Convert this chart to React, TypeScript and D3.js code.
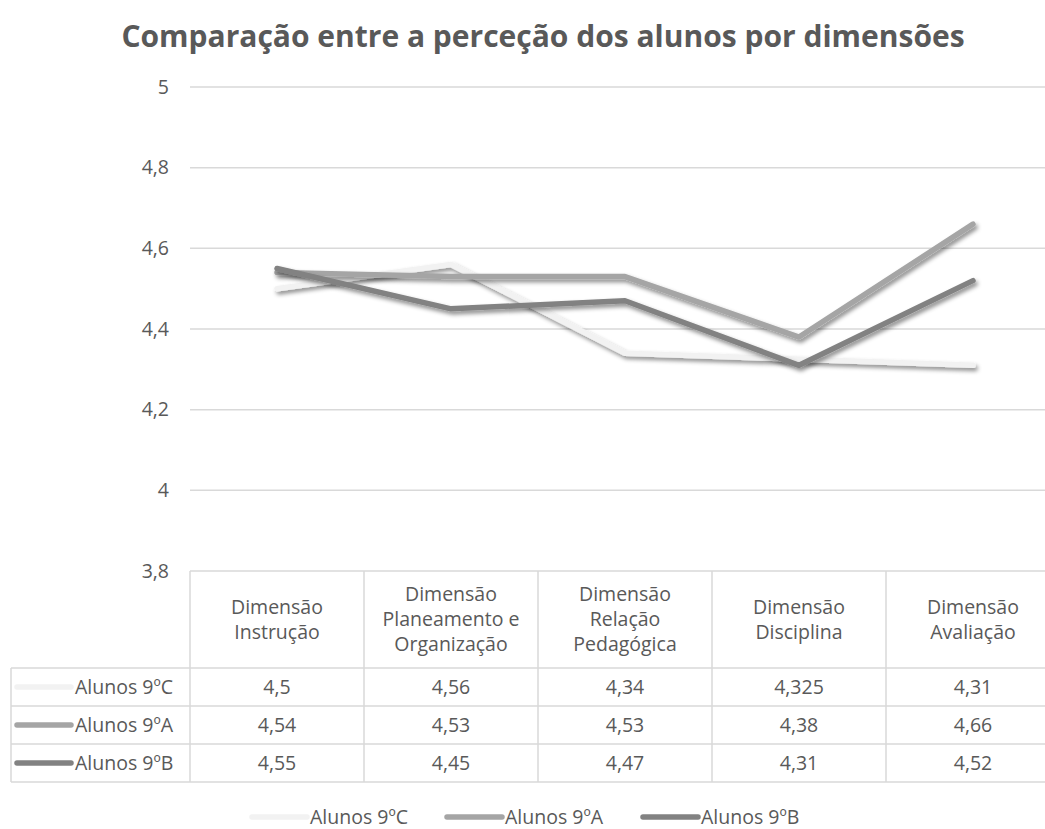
import React from "react";
import * as d3 from "d3";

const categories = [
  ["Dimensão", "Instrução"],
  ["Dimensão", "Planeamento e", "Organização"],
  ["Dimensão", "Relação", "Pedagógica"],
  ["Dimensão", "Disciplina"],
  ["Dimensão", "Avaliação"],
];
const seriesNames = ["Alunos 9ºC", "Alunos 9ºA", "Alunos 9ºB"];
const valuesC = [4.5, 4.56, 4.34, 4.325, 4.31];
const valuesA = [4.54, 4.53, 4.53, 4.38, 4.66];
const valuesB = [4.55, 4.45, 4.47, 4.31, 4.52];
const tableLabels = [
  ["4,5", "4,56", "4,34", "4,325", "4,31"],
  ["4,54", "4,53", "4,53", "4,38", "4,66"],
  ["4,55", "4,45", "4,47", "4,31", "4,52"],
];
const yTicks = [3.8, 4, 4.2, 4.4, 4.6, 4.8, 5];
const colors = ["#f2f2f2", "#a5a5a5", "#828282"];

const W = 1045;
const H = 829;
const font = "'Open Sans', sans-serif";
const textColor = "#595959";
const gridColor = "#d9d9d9";
const fs = 19.5;

export default function App() {
  const keys = categories.map((c, i) => String(i));
  const x = d3.scaleBand<string>().domain(keys).range([190, 1060]);
  const y = d3.scaleLinear().domain([3.8, 5]).range([571, 87]);
  const series = [valuesC, valuesA, valuesB];

  const line = d3
    .line<number>()
    .x((d, i) => (x(keys[i]) as number) + x.bandwidth() / 2)
    .y((d) => y(d));

  const headerBottom = 668;
  const rowH = 38;
  const tableLeft = 11;

  return (
    <svg width={W} height={H} style={{ position: "absolute", left: 0, top: 0, background: "#fff" }}>
      <defs>
        <filter id="shadow" x="-10%" y="-30%" width="120%" height="160%">
          <feDropShadow dx="2" dy="3" stdDeviation="2.2" floodColor="#000" floodOpacity="0.45" />
        </filter>
      </defs>

      <text x={543} y={47} textAnchor="middle" fontFamily={font} fontWeight="bold" fontSize={30} fill={textColor}>
        Comparação entre a perceção dos alunos por dimensões
      </text>

      {/* gridlines and y ticks */}
      {yTicks.map((t) => (
        <g key={t}>
          {t !== 3.8 && (
            <line x1={190} x2={W} y1={y(t)} y2={y(t)} stroke={gridColor} strokeWidth={1.5} />
          )}
          <text x={169} y={y(t)} dy="0.35em" textAnchor="end" fontFamily={font} fontSize={fs} fill={textColor}>
            {String(t).replace(".", ",")}
          </text>
        </g>
      ))}

      {/* lines */}
      {series.map((s, i) => (
        <path
          key={i}
          d={line(s) as string}
          fill="none"
          stroke={colors[i]}
          strokeWidth={5.5}
          strokeLinecap="round"
          strokeLinejoin="round"
          filter="url(#shadow)"
        />
      ))}

      {/* data table */}
      <g stroke={gridColor} strokeWidth={1.5}>
        <line x1={190} x2={W + 20} y1={571} y2={571} />
        {[0, 1, 2, 3].map((r) => (
          <line key={r} x1={tableLeft} x2={W + 20} y1={headerBottom + r * rowH} y2={headerBottom + r * rowH} />
        ))}
        <line x1={tableLeft} x2={tableLeft} y1={headerBottom} y2={headerBottom + 3 * rowH} />
        {keys.map((k) => (
          <line key={k} x1={x(k) as number} x2={x(k) as number} y1={571} y2={headerBottom + 3 * rowH} />
        ))}
      </g>

      {categories.map((c, i) => {
        const cx = (x(keys[i]) as number) + x.bandwidth() / 2;
        const mid = (571 + headerBottom) / 2;
        const start = mid - ((c.length - 1) * 25) / 2;
        return (
          <text key={i} textAnchor="middle" fontFamily={font} fontSize={fs} fill={textColor}>
            {c.map((l, j) => (
              <tspan key={j} x={cx} y={start + j * 25} dy="0.35em">
                {l}
              </tspan>
            ))}
          </text>
        );
      })}

      {seriesNames.map((n, r) => {
        const cy = headerBottom + r * rowH + rowH / 2;
        return (
          <g key={n}>
            <line x1={17} x2={71} y1={cy} y2={cy} stroke={colors[r]} strokeWidth={5.5} strokeLinecap="round" />
            <text x={75} y={cy} dy="0.35em" fontFamily={font} fontSize={fs} fill={textColor}>
              {n}
            </text>
            {tableLabels[r].map((v, i) => (
              <text
                key={i}
                x={(x(keys[i]) as number) + x.bandwidth() / 2}
                y={cy}
                dy="0.35em"
                textAnchor="middle"
                fontFamily={font}
                fontSize={fs}
                fill={textColor}
              >
                {v}
              </text>
            ))}
          </g>
        );
      })}

      {/* legend */}
      {seriesNames.map((n, i) => {
        const lx = [252, 447, 643][i];
        const ly = 817;
        return (
          <g key={n}>
            <line x1={lx} x2={lx + 55} y1={ly} y2={ly} stroke={colors[i]} strokeWidth={5.5} strokeLinecap="round" />
            <text x={lx + 58} y={ly} dy="0.35em" fontFamily={font} fontSize={fs} fill={textColor}>
              {n}
            </text>
          </g>
        );
      })}
    </svg>
  );
}
